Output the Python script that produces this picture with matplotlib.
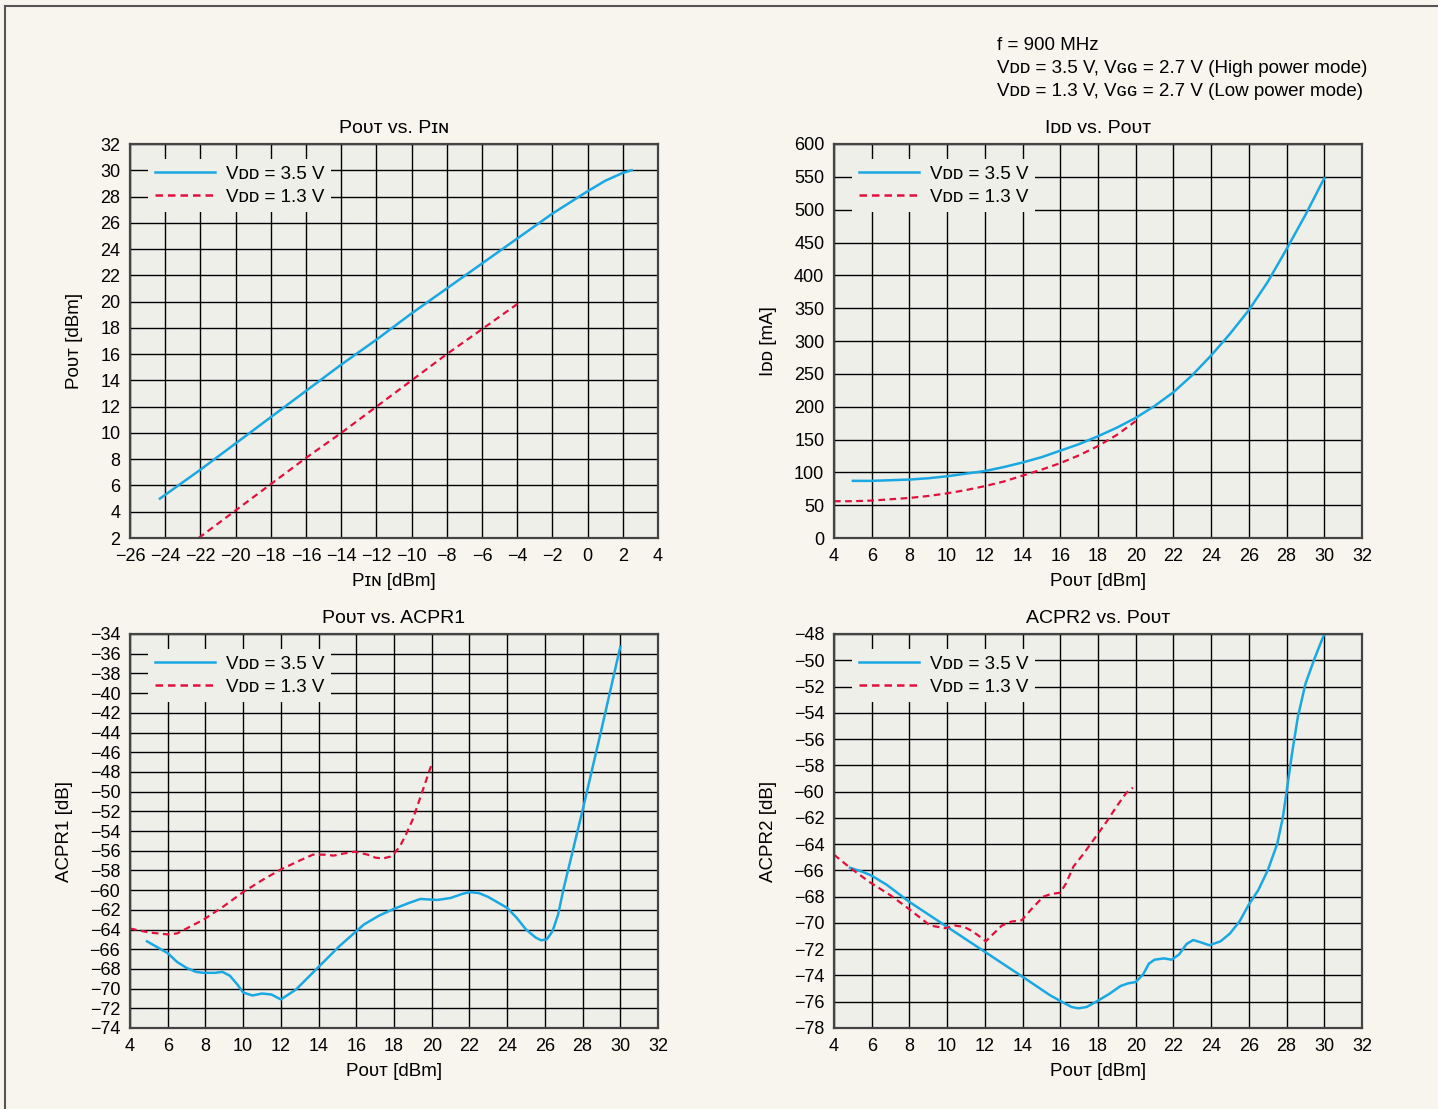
import matplotlib.pyplot as plt
from matplotlib.lines import Line2D

BLUE = '#1aa8e3'
RED = '#e2103c'
FIG_BG = '#f8f5ee'
AX_BG = '#efefea'

# Pout vs Pin
pin_hi = [-24.3, -22, -20, -18, -16, -14, -12, -10, -8, -6, -4, -2, 0, 1, 2, 2.5]
pout_hi = [5.0, 7.2, 9.2, 11.2, 13.2, 15.2, 17.1, 19.1, 21.0, 22.9, 24.8, 26.7, 28.4, 29.2, 29.8, 30.0]
pin_lo = [-22.1, -20, -18, -16, -14, -12, -10, -8, -6, -3.8]
pout_lo = [2.0, 4.1, 6.1, 8.1, 10.0, 12.0, 14.0, 16.0, 17.9, 20.0]

# Idd vs Pout
idd_x_hi = [5, 6, 7, 8, 9, 10, 11, 12, 13, 14, 15, 16, 17, 18, 19, 20, 21, 22, 23, 24, 25, 26, 27, 28, 29, 30]
idd_hi = [87, 87, 88, 89, 91, 94, 98, 102, 108, 115, 123, 133, 143, 155, 168, 183, 201, 222, 248, 278, 311, 347, 390, 440, 492, 548]
idd_x_lo = [4, 5, 6, 7, 8, 9, 10, 11, 12, 13, 14, 15, 16, 17, 18, 19, 20]
idd_lo = [56, 56, 57, 59, 61, 64, 68, 73, 79, 86, 95, 104, 114, 126, 140, 157, 178]

# ACPR1 vs Pout
acpr1_x_hi = [4.9, 6.0, 6.5, 7.0, 7.5, 7.9, 8.5, 8.9, 9.3, 9.7, 10.0, 10.5, 11.0, 11.5, 12.0, 12.8, 14.0, 15.1,
              16.4, 17.2, 18.0, 18.8, 19.4, 20.3, 21.0, 21.6, 22.0, 22.5, 23.0, 24.0, 24.5, 25.0, 25.5, 25.8,
              26.1, 26.4, 26.7, 27.0, 28.0, 29.0, 30.0]
acpr1_hi = [-65.2, -66.4, -67.3, -67.9, -68.3, -68.4, -68.4, -68.3, -68.7, -69.6, -70.4, -70.7, -70.5, -70.6, -71.1,
            -70.1, -67.8, -65.7, -63.5, -62.6, -61.9, -61.3, -60.9, -61.0, -60.8, -60.4, -60.2, -60.3, -60.7, -61.8,
            -62.8, -64.0, -64.8, -65.1, -65.0, -64.2, -62.5, -59.8, -51.9, -43.7, -35.3]
acpr1_x_lo = [4.0, 5.0, 6.0, 6.5, 7.0, 7.9, 9.0, 10.0, 11.0, 12.0, 13.0, 13.7, 14.3, 14.8, 15.3, 15.9, 16.6,
              17.0, 17.4, 17.8, 18.0, 18.3, 18.6, 19.0, 19.5, 20.0]
acpr1_lo = [-63.9, -64.3, -64.5, -64.4, -63.9, -63.0, -61.6, -60.2, -59.0, -57.9, -57.0, -56.4, -56.4, -56.5, -56.3,
            -56.1, -56.4, -56.7, -56.8, -56.6, -56.3, -55.6, -54.5, -52.8, -50.0, -47.2]

# ACPR2 vs Pout
acpr2_x_hi = [4.85, 5.5, 6.0, 6.8, 8.0, 10.0, 12.0, 14.0, 15.45, 16.2, 16.6, 16.95, 17.4, 17.9, 18.6, 19.2, 19.6,
              20.0, 20.4, 20.7, 21.0, 21.5, 21.9, 22.3, 22.7, 23.05, 23.5, 23.9, 24.5, 25.0, 25.5, 26.0, 26.5,
              27.0, 27.5, 27.8, 28.0, 28.3, 28.6, 29.0, 29.5, 30.0]
acpr2_hi = [-65.8, -66.1, -66.4, -67.1, -68.4, -70.3, -72.2, -74.1, -75.5, -76.1, -76.4, -76.5, -76.4, -76.0,
            -75.4, -74.8, -74.6, -74.5, -73.9, -73.1, -72.8, -72.7, -72.8, -72.4, -71.6, -71.3, -71.5, -71.7,
            -71.4, -70.8, -69.9, -68.6, -67.5, -66.0, -64.0, -62.0, -60.0, -57.0, -54.3, -51.8, -49.8, -48.0]
acpr2_x_lo = [4.0, 4.85, 5.9, 7.0, 7.85, 9.1, 9.9, 10.4, 10.9, 11.3, 11.6, 12.05, 12.4, 12.9, 13.4, 13.95, 14.5,
              15.1, 15.5, 16.0, 16.3, 16.7, 17.2, 17.75, 18.5, 19.0, 19.5, 19.85]
acpr2_lo = [-64.8, -65.8, -66.9, -67.9, -68.8, -70.2, -70.4, -70.2, -70.3, -70.6, -70.9, -71.4, -70.9, -70.2,
            -69.9, -69.8, -68.9, -68.0, -67.8, -67.7, -67.0, -65.7, -64.8, -63.7, -62.2, -61.1, -60.1, -59.7]

LABEL_HI = 'V\u1d05\u1d05 = 3.5 V'
LABEL_LO = 'V\u1d05\u1d05 = 1.3 V'
POUT = 'P\u1d0f\u1d1c\u1d1b'

plt.rcParams['font.family'] = ['Liberation Sans', 'DejaVu Sans']
plt.rcParams['font.size'] = 13


def setup_axes(ax, xlim, xstep, ylim, ystep, title, xlabel, ylabel):
    ax.set_facecolor(AX_BG)
    ax.set_xlim(*xlim)
    ax.set_ylim(*ylim)
    ax.set_xticks(range(xlim[0], xlim[1] + 1, xstep))
    ax.set_yticks(range(ylim[0], ylim[1] + 1, ystep))
    ax.grid(True, color='black', linewidth=1.0)
    ax.set_axisbelow(True)
    ax.tick_params(length=0, pad=7, labelsize=13)
    for s in ax.spines.values():
        s.set_color('#444444')
        s.set_linewidth(1.6)
    ax.set_title(title, fontsize=14, pad=8)
    ax.set_xlabel(xlabel, fontsize=13.5, labelpad=6)
    ax.set_ylabel(ylabel, fontsize=13.5, labelpad=12)


def add_legend(ax):
    handles = [Line2D([], [], color=BLUE, linewidth=1.8),
               Line2D([], [], color=RED, linewidth=1.8, linestyle=(0, (3, 2)))]
    leg = ax.legend(handles, [LABEL_HI, LABEL_LO], loc='upper left', bbox_to_anchor=(0.035, 0.962),
                    borderaxespad=0, borderpad=0.35, handlelength=3.2, handletextpad=0.6,
                    labelspacing=0.32, fontsize=13.5, frameon=True, facecolor=AX_BG,
                    edgecolor='none', framealpha=1, fancybox=False)
    leg.set_zorder(5)


fig = plt.figure(figsize=(14.38, 11.09), dpi=100, facecolor=FIG_BG)
W, H = 1438, 1109
aw, ah = 528 / W, 394 / H
ax1 = fig.add_axes([130 / W, 1 - 538 / H, aw, ah])
ax2 = fig.add_axes([834 / W, 1 - 538 / H, aw, ah])
ax3 = fig.add_axes([130 / W, 1 - 1028 / H, aw, ah])
ax4 = fig.add_axes([834 / W, 1 - 1028 / H, aw, ah])

setup_axes(ax1, (-26, 4), 2, (2, 32), 2, POUT + ' vs. P\u026a\u0274', 'P\u026a\u0274 [dBm]', POUT + ' [dBm]')
ax1.plot(pin_hi, pout_hi, color=BLUE, linewidth=1.8)
ax1.plot(pin_lo, pout_lo, color=RED, linewidth=1.6, linestyle=(0, (3, 2)))
add_legend(ax1)

setup_axes(ax2, (4, 32), 2, (0, 600), 50, 'I\u1d05\u1d05 vs. ' + POUT, POUT + ' [dBm]', 'I\u1d05\u1d05 [mA]')
ax2.plot(idd_x_hi, idd_hi, color=BLUE, linewidth=1.8)
ax2.plot(idd_x_lo, idd_lo, color=RED, linewidth=1.6, linestyle=(0, (3, 2)))
add_legend(ax2)

setup_axes(ax3, (4, 32), 2, (-74, -34), 2, POUT + ' vs. ACPR1', POUT + ' [dBm]', 'ACPR1 [dB]')
ax3.plot(acpr1_x_hi, acpr1_hi, color=BLUE, linewidth=1.8)
ax3.plot(acpr1_x_lo, acpr1_lo, color=RED, linewidth=1.6, linestyle=(0, (3, 2)))
add_legend(ax3)

setup_axes(ax4, (4, 32), 2, (-78, -48), 2, 'ACPR2 vs. ' + POUT, POUT + ' [dBm]', 'ACPR2 [dB]')
ax4.plot(acpr2_x_hi, acpr2_hi, color=BLUE, linewidth=1.8)
ax4.plot(acpr2_x_lo, acpr2_lo, color=RED, linewidth=1.6, linestyle=(0, (3, 2)))
add_legend(ax4)

notes = ['f = 900 MHz',
         'V\u1d05\u1d05 = 3.5 V, V\u0262\u0262 = 2.7 V (High power mode)',
         'V\u1d05\u1d05 = 1.3 V, V\u0262\u0262 = 2.7 V (Low power mode)']
for i, line in enumerate(notes):
    fig.text(997 / W, 1 - (45 + 23.5 * i) / H, line, fontsize=13.5, va='center', ha='left')

# outer frame (left and top edges)
fig.add_artist(Line2D([5 / W, 5 / W], [0, 1 - 6 / H], color='#555555', linewidth=1.5))
fig.add_artist(Line2D([5 / W, 1], [1 - 6 / H, 1 - 6 / H], color='#555555', linewidth=1.5))

fig.savefig('out.png', dpi=100, facecolor=FIG_BG)
